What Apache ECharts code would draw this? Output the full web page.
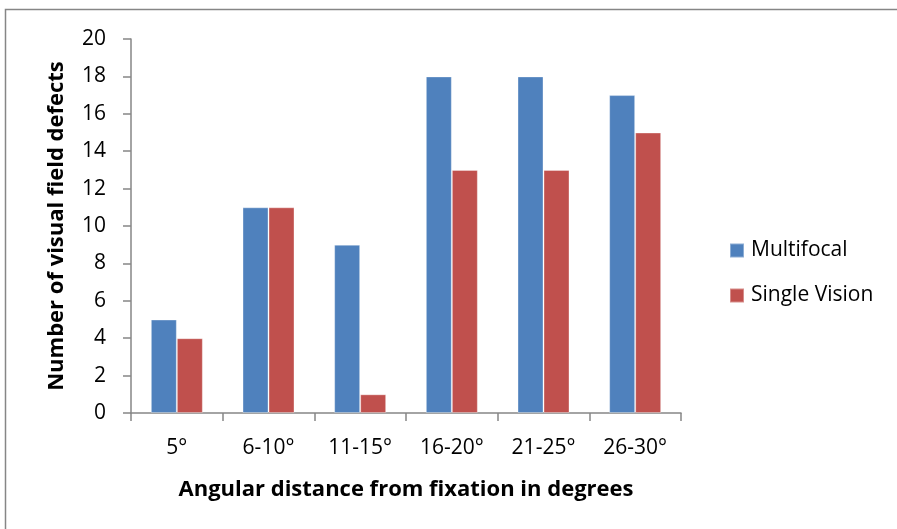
<!DOCTYPE html>
<html>
<head>
<meta charset="utf-8">
<script src="https://cdn.jsdelivr.net/npm/echarts@6/dist/echarts.min.js"></script>
<style>html,body{margin:0;padding:0;background:#fff}#c{width:897px;height:529px}</style>
</head>
<body>
<div id="c"></div>
<script>
const categories = ['5°', '6-10°', '11-15°', '16-20°', '21-25°', '26-30°'];
const multifocal = [5, 11, 9, 18, 18, 17];
const singleVision = [4, 11, 1, 13, 13, 15];
const yTicks = { min: 0, max: 20, interval: 2 };

const font = "'Open Sans', 'Liberation Sans', sans-serif";
const chart = echarts.init(document.getElementById('c'), null, { renderer: 'canvas' });
chart.setOption({
  animation: false,
  textStyle: { fontFamily: font },
  graphic: [{
    type: 'rect',
    shape: { x: 5.5, y: 9.5, width: 1000, height: 1000 },
    style: { fill: 'none', stroke: '#868686', lineWidth: 1.5 }
  }],
  grid: { left: 131, right: 216, top: 39, bottom: 116 },
  legend: {
    orient: 'vertical',
    left: 724, top: 235,
    itemWidth: 14, itemHeight: 14, itemGap: 24,
    icon: 'rect',
    textStyle: { fontSize: 21, color: '#000', fontFamily: font, padding: [0, 0, 0, 2] },
    data: ['Multifocal', 'Single Vision']
  },
  xAxis: {
    type: 'category',
    data: categories,
    name: 'Angular distance from fixation in degrees',
    nameLocation: 'middle',
    nameGap: 66,
    nameTextStyle: { fontSize: 22, fontWeight: 'bold', color: '#000', fontFamily: font },
    axisLine: { lineStyle: { color: '#868686', width: 1.5 } },
    axisTick: { show: true, length: 8, lineStyle: { color: '#868686', width: 1.5 } },
    axisLabel: { fontSize: 21, color: '#000', margin: 25, fontFamily: font }
  },
  yAxis: {
    type: 'value',
    min: yTicks.min, max: yTicks.max, interval: yTicks.interval,
    name: 'Number of visual field defects',
    nameLocation: 'middle',
    nameGap: 63,
    nameTextStyle: { fontSize: 22, fontWeight: 'bold', color: '#000', fontFamily: font },
    axisLine: { show: true, lineStyle: { color: '#868686', width: 1.5 } },
    axisTick: { show: true, length: 8, lineStyle: { color: '#868686', width: 1.5 } },
    splitLine: { show: false },
    axisLabel: { fontSize: 21, color: '#000', margin: 25, fontFamily: font }
  },
  series: [
    {
      name: 'Multifocal', type: 'bar', data: multifocal,
      barWidth: 26, barGap: '0%',
      itemStyle: { color: '#4F81BD', borderColor: 'rgba(255,255,255,0.35)', borderWidth: 1 }
    },
    {
      name: 'Single Vision', type: 'bar', data: singleVision,
      barWidth: 26,
      itemStyle: { color: '#C0504D', borderColor: 'rgba(255,255,255,0.35)', borderWidth: 1 }
    }
  ]
});
</script>
</body>
</html>
